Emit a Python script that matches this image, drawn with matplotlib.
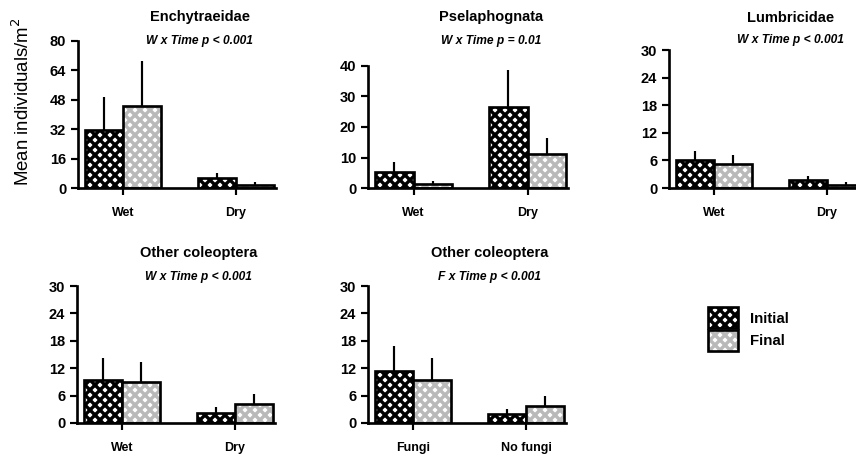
import numpy as np
import matplotlib
matplotlib.use('Agg')
import matplotlib.pyplot as plt
from matplotlib import transforms
from matplotlib.patches import Patch
from matplotlib.legend_handler import HandlerTuple

plt.rcParams['font.family'] = ['Liberation Sans', 'DejaVu Sans']
plt.rcParams['hatch.linewidth'] = 2.0

# group means and upper standard errors, one pair per panel
titles = ['Enchytraeidae', 'Pselaphognata', 'Lumbricidae', 'Other coleoptera', 'Other coleoptera']
subtitles = ['W x Time p < 0.001', 'W x Time p = 0.01', 'W x Time p < 0.001',
             'W x Time p < 0.001', 'F x Time p < 0.001']
groups = [['Wet', 'Dry'], ['Wet', 'Dry'], ['Wet', 'Dry'], ['Wet', 'Dry'], ['Fungi', 'No fungi']]
initial = [[31.7, 5.2], [5.4, 26.6], [6.1, 1.8], [9.5, 2.1], [11.3, 2.0]]
initial_err = [[17.7, 2.9], [3.0, 12.2], [2.0, 0.9], [4.8, 1.3], [5.5, 1.1]]
final = [[44.7, 1.8], [1.3, 11.1], [5.2, 0.6], [8.9, 4.1], [9.5, 3.8]]
final_err = [[24.6, 1.3], [1.1, 5.4], [1.9, 0.6], [4.4, 2.2], [4.8, 2.2]]
yticks = [np.arange(0, 81, 16), np.arange(0, 41, 10), np.arange(0, 31, 6),
          np.arange(0, 31, 6), np.arange(0, 31, 6)]

W, H, DPI = 856, 455, 120
fig = plt.figure(figsize=(W / DPI, H / DPI), dpi=DPI)

# axes boxes in pixels: left, top, right, bottom
boxes = [(78, 41, 276, 188), (368, 66, 568, 188), (669, 50, 867, 188),
         (77, 286, 275, 423), (368, 286, 566, 423)]
title_y = [(20.5, 44), (20.5, 44), (22.5, 43.5), (257, 280), (257, 280)]

gray = '#b9b9b9'
hatch = 'x' * 4
w = 0.336

def hatched_bars(ax, x, h, color):
    ax.bar(x, h, w, facecolor='white', edgecolor=color, hatch=hatch, linewidth=0)
    ax.bar(x, h, w, fill=False, edgecolor='black', linewidth=1.6)

for i in range(5):
    l, t, r, b = boxes[i]
    ax = fig.add_axes([l / W, 1 - b / H, (r - l) / W, (b - t) / H])
    x = np.arange(2)
    hatched_bars(ax, x - w / 2, initial[i], 'black')
    hatched_bars(ax, x + w / 2, final[i], gray)
    ax.errorbar(x - w / 2, initial[i], yerr=[np.zeros(2), initial_err[i]], fmt='none',
                ecolor='black', elinewidth=1.3, capsize=0, zorder=0.5)
    ax.errorbar(x + w / 2, final[i], yerr=[np.zeros(2), final_err[i]], fmt='none',
                ecolor='black', elinewidth=1.3, capsize=0, zorder=0.5)

    ax.set_xlim(-0.4, 1.355)
    ax.set_ylim(0, yticks[i][-1])
    ax.set_yticks(yticks[i])
    ax.set_xticks(x)
    ax.set_xticklabels(groups[i])
    for s in ['top', 'right']:
        ax.spines[s].set_visible(False)
    for s in ['left', 'bottom']:
        ax.spines[s].set_linewidth(1.6)
    ax.tick_params(axis='y', length=4.5, width=1.3, pad=2.5, labelsize=8.8)
    ax.tick_params(axis='x', length=4.2, width=1.3, pad=7, labelsize=7.5)
    for lab in ax.get_xticklabels() + ax.get_yticklabels():
        lab.set_fontweight('bold')

    tr = transforms.blended_transform_factory(ax.transAxes, fig.transFigure)
    ax.text(0.615, 1 - title_y[i][0] / H, titles[i], transform=tr, ha='center',
            va='baseline', fontsize=8.8, fontweight='bold')
    ax.text(0.615, 1 - title_y[i][1] / H, subtitles[i], transform=tr, ha='center',
            va='baseline', fontsize=7.2, fontweight='bold', fontstyle='italic')

fig.text(22 / W, 1 - 102 / H, 'Mean individuals/m$^2$', rotation=90, ha='center',
         va='center', fontsize=11.2)

h_init = (Patch(facecolor='white', edgecolor='black', hatch=hatch, linewidth=0),
          Patch(fill=False, edgecolor='black', linewidth=1.6))
h_fin = (Patch(facecolor='white', edgecolor=gray, hatch=hatch, linewidth=0),
         Patch(fill=False, edgecolor='black', linewidth=1.6))
fig.legend([h_init, h_fin], ['Initial', 'Final'],
           handler_map={tuple: HandlerTuple(ndivide=1, pad=0)},
           loc='center left', bbox_to_anchor=(708 / W, 1 - 329 / H), frameon=False,
           prop={'weight': 'bold', 'size': 9}, handlelength=2.0, handleheight=1.75,
           labelspacing=0.12, handletextpad=0.8, borderaxespad=0, borderpad=0)

fig.savefig('out.png', dpi=DPI)
